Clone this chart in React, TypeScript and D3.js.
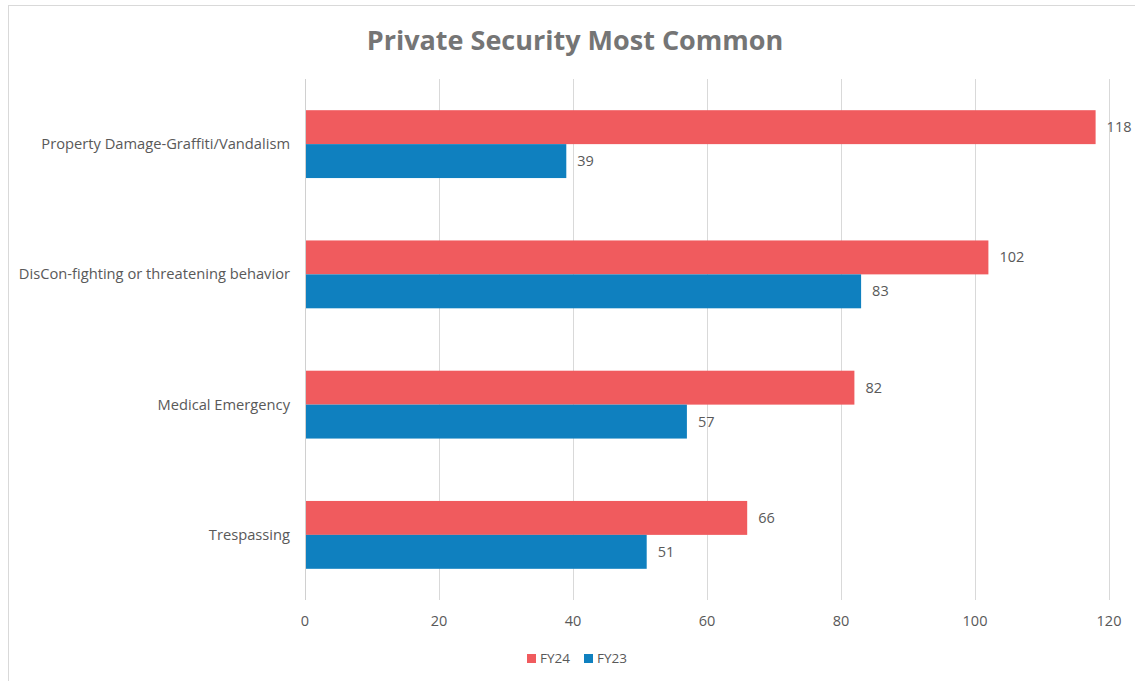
import React from "react";
import * as d3 from "d3";

const categories = [
  "Property Damage-Graffiti/Vandalism",
  "DisCon-fighting or threatening behavior",
  "Medical Emergency",
  "Trespassing",
];
const seriesNames = ["FY24", "FY23"];
const fy24 = [118, 102, 82, 66];
const fy23 = [39, 83, 57, 51];
const xTicks = [0, 20, 40, 60, 80, 100, 120];
const colors = ["#F05B5E", "#0F80BF"];

const W = 1135;
const H = 681;
const left = 305;
const right = 1109;
const top = 79;
const bottom = 600;
const font = "'Open Sans', sans-serif";

export default function App() {
  const x = d3.scaleLinear().domain([0, 120]).range([left, right]);
  const y = d3.scaleBand().domain(categories).range([top, bottom]).paddingInner(0.479).paddingOuter(0.2395);
  const sub = d3.scaleBand().domain(seriesNames).range([0, y.bandwidth()]);
  const series = [fy24, fy23];

  return (
    <div style={{ position: "absolute", left: 0, top: 0 }}>
      <svg width={W} height={H} style={{ display: "block", background: "#fff" }}>
        <rect x={8.5} y={5.5} width={W} height={H} fill="#fff" stroke="#d9d9d9" />
        <text x={575} y={50} textAnchor="middle" fontFamily={font} fontWeight={700} fontSize={27} fill="#757575">
          Private Security Most Common
        </text>
        {xTicks.map((t) => (
          <g key={t}>
            <line x1={x(t) + 0.5} x2={x(t) + 0.5} y1={top} y2={bottom} stroke={t === 0 ? "#d0d0d0" : "#d9d9d9"} strokeWidth={1} />
            <text x={x(t)} y={626} textAnchor="middle" fontFamily={font} fontSize={14.5} fill="#595959">
              {t}
            </text>
          </g>
        ))}
        {categories.map((c, i) => (
          <g key={c}>
            <text x={290} y={(y(c) as number) + y.bandwidth() / 2 + 5} textAnchor="end" fontFamily={font} fontSize={14.7} fill="#595959">
              {c}
            </text>
            {series.map((s, j) => {
              const by = (y(c) as number) + (sub(seriesNames[j]) as number);
              return (
                <g key={j}>
                  <rect x={x(0) + 1} y={by} width={x(s[i]) - x(0) - 1} height={sub.bandwidth()} fill={colors[j]} />
                  <text x={x(s[i]) + 11} y={by + sub.bandwidth() / 2 + 5} fontFamily={font} fontSize={14.5} fill="#595959">
                    {s[i]}
                  </text>
                </g>
              );
            })}
          </g>
        ))}
        {seriesNames.map((n, j) => (
          <g key={n} transform={`translate(${527 + j * 57},0)`}>
            <rect x={0} y={654} width={9} height={9} fill={colors[j]} />
            <text x={13} y={663} fontFamily={font} fontSize={13.5} fill="#595959">
              {n}
            </text>
          </g>
        ))}
      </svg>
    </div>
  );
}
